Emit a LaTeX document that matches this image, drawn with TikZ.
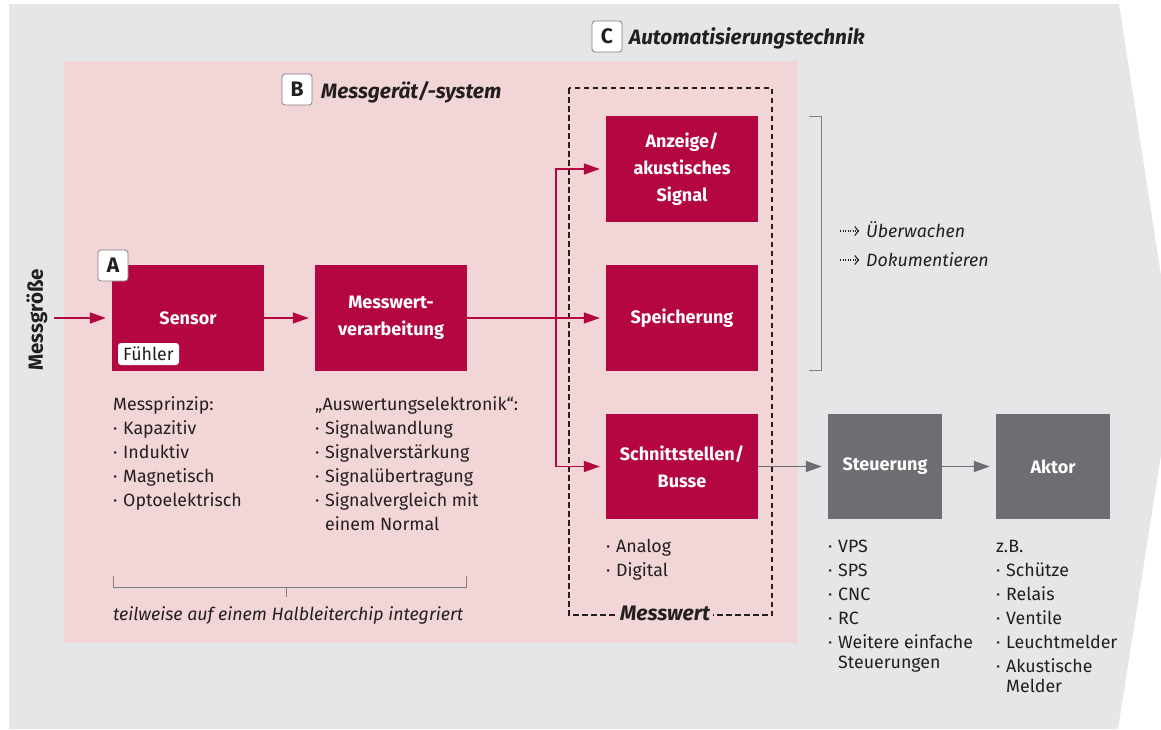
\documentclass[tikz,border=0pt]{standalone}
\usepackage{fontspec}
\setmainfont{Fira Sans}
\usetikzlibrary{arrows.meta}
\definecolor{bggray}{HTML}{E5E6E8}
\definecolor{pinkbg}{HTML}{F2D5D7}
\definecolor{crim}{HTML}{B40640}
\definecolor{dgray}{HTML}{6D6E72}
\definecolor{txt}{HTML}{231F20}
\definecolor{lblgray}{HTML}{808080}
\newcommand{\bul}{\makebox[10pt][l]{·}}
\newcommand{\ind}{\hspace*{10pt}}
\tikzset{
  redbox/.style={fill=crim, text=white, minimum width=152pt, minimum height=106pt, inner sep=0pt, align=center, font=\bfseries\fontsize{18}{27}\selectfont},
  graybox/.style={fill=dgray, text=white, minimum width=114pt, minimum height=105pt, inner sep=0pt, align=center, font=\bfseries\fontsize{18}{27}\selectfont},
  lbl/.style={draw=lblgray, line width=0.8pt, fill=white, rounded corners=3pt, minimum width=30pt, minimum height=31pt, inner sep=0pt, font=\bfseries\fontsize{21}{21}\selectfont, text=txt},
  title/.style={anchor=base west, inner sep=0pt, font=\bfseries\itshape\fontsize{20.8}{21}\selectfont, text=txt},
  listtxt/.style={anchor=base west, inner sep=0pt, align=left, text=txt, font=\fontsize{17.8}{24}\selectfont},
  ittxt/.style={anchor=base west, inner sep=0pt, text=txt, font=\itshape\fontsize{17.8}{18}\selectfont},
  redarrow/.style={draw=crim, line width=1.5pt, -{Triangle[length=16pt,width=11pt]}, shorten >=6pt},
  grayarrow/.style={draw=dgray, line width=1.5pt, -{Triangle[length=16pt,width=11pt]}, shorten >=6pt},
  dashbox/.style={draw=txt, line width=1.5pt, dash pattern=on 5.5pt off 3.5pt},
  brk/.style={draw=lblgray, line width=1pt},
  dotarrow/.style={draw=txt, line width=1.1pt, dash pattern=on 1.1pt off 1.4pt, -{Straight Barb[length=3.5pt,width=9pt,line width=1.1pt]}}
}
\begin{document}
\begin{tikzpicture}[x=1pt,y=-1pt]
\useasboundingbox (0,0) rectangle (1161,729);
\begin{scope}
  \clip (0,0) rectangle (1161,729);
  \fill[bggray] (9,4) -- (1119,4) -- (1175,366) -- (1118,729) -- (9,729) -- cycle;
\end{scope}
\fill[pinkbg] (64,61) rectangle (798,643);
\draw[dashbox] (569,88) rectangle (772,615);

% labels and titles
\node[lbl] (C) at (607,36.5) {C};
\node[title] (Ct) at (629,44) {Automatisierungstechnik};
\node[lbl] (B) at (297,89.5) {B};
\node[title] (Bt) at (321,98) {Messgerät/-system};

% boxes
\node[redbox] (sensor) at (188,318) {Sensor};
\node[lbl] (A) at (113,265.5) {A};
\node[fill=white, rounded corners=3pt, inner sep=0pt, minimum width=61pt, minimum height=22pt, text=txt, font=\fontsize{17.8}{18}\selectfont] (fuehler) at (148.5,354) {Fühler};
\node[redbox] (mwv) at (391,318) {Messwert-\\verarbeitung};
\node[redbox] (anz) at (682,169) {Anzeige/\\akustisches\\Signal};
\node[redbox] (spei) at (682,318) {Speicherung};
\node[redbox, minimum height=105pt] (schn) at (682,466.5) {Schnittstellen/\\Busse};
\node[graybox] (steu) at (885,466.5) {Steuerung};
\node[graybox] (aktor) at (1053,466.5) {Aktor};

% Messgröße
\node[rotate=90, inner sep=0pt, text=txt, font=\bfseries\fontsize{20.5}{21}\selectfont] (mg) at (37,320) {Messgröße};
\coordinate (mgs) at (54,318);
\coordinate (br) at (556,318);

% connectors
\draw[redarrow] (mgs) -- (sensor.west);
\draw[redarrow] (sensor.east) -- (mwv.west);
\draw[redarrow] (mwv.east) -- (spei.west);
\draw[redarrow] (br) |- (anz.west);
\draw[redarrow] (br) |- (schn.west);
\draw[grayarrow] (schn.east) -- (steu.west);
\draw[grayarrow] (steu.east) -- (aktor.west);

% Messwert label on dashed line
\node[fill=pinkbg, inner xsep=3pt, inner ysep=2pt, text=txt, font=\bfseries\itshape\fontsize{21}{21}\selectfont] (mw) at (665,613) {Messwert};

% right bracket with outputs
\draw[brk] (809,116) -- (821,116) -- (821,370) -- (809,370);
\coordinate (u1) at (840,231);
\coordinate (u2) at (859,231);
\coordinate (d1) at (840,260);
\coordinate (d2) at (859,260);
\draw[dotarrow] (u1) -- (u2);
\draw[dotarrow] (d1) -- (d2);
\node[ittxt] (ueb) at (866,237) {Überwachen};
\node[ittxt] (dok) at (866,266) {Dokumentieren};

% lists (anchor = baseline of the last line)
\node[listtxt] (l1) at (113,506) {Messprinzip:\\\bul Kapazitiv\\\bul Induktiv\\\bul Magnetisch\\\bul Optoelektrisch};
\node[listtxt] (l2) at (315,530) {„Auswertungselektronik“:\\\bul Signalwandlung\\\bul Signalverstärkung\\\bul Signalübertragung\\\bul Signalvergleich mit\\\ind einem Normal};
\node[listtxt] (l3) at (606,576) {\bul Analog\\\bul Digital};
\node[listtxt] (l4) at (828,668) {\bul VPS\\\bul SPS\\\bul CNC\\\bul RC\\\bul Weitere einfache\\[-4pt]\ind Steuerungen};
\node[listtxt] (l5) at (996,692) {z.B.\\\bul Schütze\\\bul Relais\\\bul Ventile\\\bul Leuchtmelder\\\bul Akustische\\[-4pt]\ind Melder};

% bottom bracket
\draw[brk] (113,576) -- (113,587) -- (466,587) -- (466,576);
\draw[brk] (286,587) -- (286,597);
\node[ittxt] (halb) at (113,620) {teilweise auf einem Halbleiterchip integriert};
\end{tikzpicture}
\end{document}
